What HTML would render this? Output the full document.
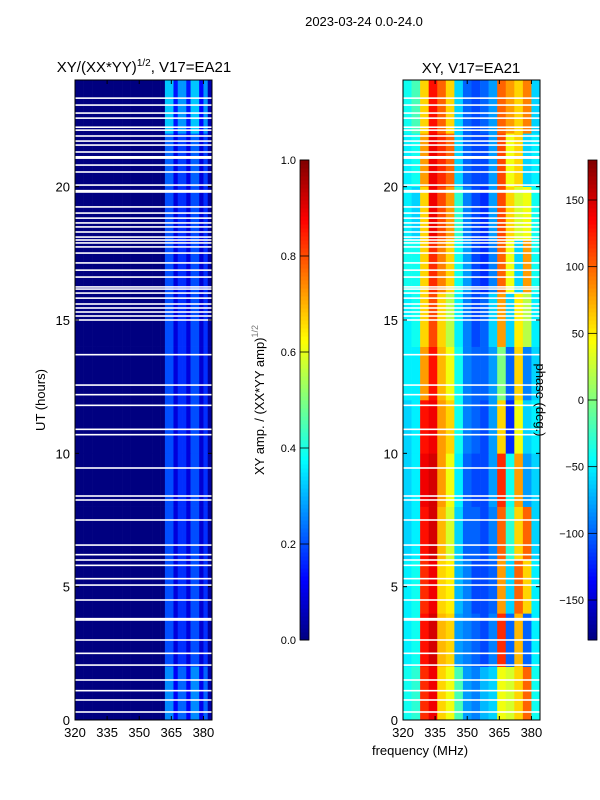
<!DOCTYPE html>
<html><head><meta charset="utf-8">
<style>
html,body{margin:0;padding:0;background:#fff;}
svg{display:block;font-family:"Liberation Sans","DejaVu Sans",sans-serif;}
</style></head>
<body>
<svg id="fig" width="600" height="800" viewBox="0 0 600 800">
<rect x="0" y="0" width="600" height="800" fill="#fff"/>
<text x="364" y="26" font-size="13" text-anchor="middle">2023-03-24 0.0-24.0</text>
<text x="144" y="72" font-size="15" text-anchor="middle">XY/(XX*YY)<tspan font-size="10" dy="-6">1/2</tspan><tspan dy="6">, V17=EA21</tspan></text>
<text x="471" y="73" font-size="15" text-anchor="middle">XY, V17=EA21</text>
<g id="ampHeat"></g>
<g id="phaseHeat"></g>
<g id="axes"></g>
<text transform="translate(45,400) rotate(-90)" font-size="13" text-anchor="middle">UT (hours)</text>
<text x="420" y="755" font-size="13" text-anchor="middle">frequency (MHz)</text>
<text transform="translate(264,400) rotate(-90)" font-size="13" text-anchor="middle">XY amp. / (XX*YY amp)<tspan font-size="9" dy="-6" fill="#777">1/2</tspan></text>
<text transform="translate(536,400) rotate(90)" font-size="13" text-anchor="middle">phase (deg.)</text>
</svg>
<script>
// ---- data ----
const freqMin = 320, freqMax = 384, utMin = 0, utMax = 24;
const xTicks = [320, 335, 350, 365, 380];
const yTicks = [0, 5, 10, 15, 20];
const ampTicks = [0.0, 0.2, 0.4, 0.6, 0.8, 1.0];
const phaseTicks = [-150, -100, -50, 0, 50, 100, 150];
// amplitude per 2 MHz channel (320..384)
const ampFreq = [0.0,0.0,0.0,0.0,0.0,0.0,0.0,0.0,0.0,0.0,0.0,0.0,0.0,0.0,0.0,0.0,
                 0.0,0.0,0.0,0.0,0.0,0.2,0.2,0.09,0.17,0.17,0.09,0.2,0.2,0.08,0.17,0.03];
// amplitude multiplier per 2-hour block (0..24)
const ampTime = [1.3,1.0,1.0,1.0,1.0,1.0,1.0,1.0,1.0,1.0,1.1,1.6];
// phase (deg) per 2-hour block (rows) x 4 MHz channel (cols)
const phaseGrid = [
 [-40,-30,120,140,60,40,-20,-80,-90,-70,-60,40,30,60,100,-40],
 [-50,-40,130,150,70,60,-80,-90,-100,-110,-90,120,-100,70,-100,-50],
 [-50,-40,120,140,60,50,-70,-90,-110,-110,-100,80,-60,100,60,-50],
 [-60,-50,130,150,70,30,-60,-100,-100,-110,-90,100,-30,60,100,-60],
 [-60,-50,140,150,80,40,-50,-100,-110,-110,-80,120,-40,80,-80,-60],
 [-60,-50,130,140,80,60,-40,-90,-100,-110,-80,60,-120,40,-60,-50],
 [-50,-50,80,130,70,40,-40,-90,-100,-100,-80,0,-100,60,-90,-60],
 [-50,-40,60,110,60,20,-50,-90,-110,-100,-60,80,-60,50,20,-50],
 [-40,-40,60,120,90,60,-40,-80,-110,-120,-90,100,40,-60,80,-40],
 [-50,-60,60,140,110,80,-30,-90,-110,-120,-80,110,60,30,40,-40],
 [-50,-40,80,140,120,100,-60,-100,-110,-110,-80,110,40,60,-60,-50],
 [-40,-20,60,130,100,60,-60,-100,-110,-100,-80,100,80,60,90,-60]
];
// flagged (blank) UT hours
const flagged = [0.3,0.75,1.1,1.5,2.06,2.5,3.0,3.75,3.8,4.5,5.06,5.3,5.8,6.0,6.2,6.56,7.5,8.25,8.4,9.45,10.7,10.9,11.8,12.2,12.56,13.7,
 15.0,15.15,15.3,15.45,15.6,15.82,16.01,16.16,16.24,16.61,16.87,17.14,17.51,17.74,17.89,18.0,18.11,18.3,18.49,18.64,18.82,19.01,19.24,
 19.8,19.85,20.06,20.55,20.81,21.07,21.12,21.3,21.56,21.71,21.9,22.12,22.23,22.57,22.76,23.06,23.32];

// ---- scales ----
const panels = [{x0:75,x1:212,name:'amp'},{x0:403,x1:540,name:'phase'}];
const y0 = 720, y1 = 80;
function yScale(h){return y0 + (h-utMin)/(utMax-utMin)*(y1-y0);}
function xScale(p,f){return p.x0 + (f-freqMin)/(freqMax-freqMin)*(p.x1-p.x0);}
function jet(v){
  v=Math.max(0,Math.min(1,v));
  const r=Math.max(0,Math.min(1,1.5-Math.abs(4*v-3)));
  const g=Math.max(0,Math.min(1,1.5-Math.abs(4*v-2)));
  const b=Math.max(0,Math.min(1,1.5-Math.abs(4*v-1)));
  return 'rgb('+Math.round(r*255)+','+Math.round(g*255)+','+Math.round(b*255)+')';
}
const NS='http://www.w3.org/2000/svg';
function mk(tag,attrs,parent){const e=document.createElementNS(NS,tag);for(const k in attrs)e.setAttribute(k,attrs[k]);parent.appendChild(e);return e;}

// amp heatmap
const ampG=document.getElementById('ampHeat');
const blockH=(utMax-utMin)/ampTime.length;
ampTime.forEach((m,ti)=>{
  ampFreq.forEach((a,fi)=>{
    const f0=freqMin+fi*2, f1=f0+2;
    const r=mk('rect',{x:xScale(panels[0],f0),y:yScale((ti+1)*blockH),width:xScale(panels[0],f1)-xScale(panels[0],f0)+0.3,height:yScale(ti*blockH)-yScale((ti+1)*blockH)+0.3,fill:jet(a*m)},ampG);
    
    
  });
});
// phase heatmap
const phG=document.getElementById('phaseHeat');
const pBlock=(utMax-utMin)/phaseGrid.length;
phaseGrid.forEach((row,ti)=>{
  row.forEach((ph,fi)=>{
    const f0=freqMin+fi*4, f1=f0+4;
    const r=mk('rect',{x:xScale(panels[1],f0),y:yScale((ti+1)*pBlock),width:xScale(panels[1],f1)-xScale(panels[1],f0)+0.3,height:yScale(ti*pBlock)-yScale((ti+1)*pBlock)+0.3,fill:jet((ph+180)/360)},phG);
    
    
  });
});
// flagged rows
panels.forEach(p=>{
  const g=p.name==='amp'?ampG:phG;
  flagged.forEach(h=>{
    const r=mk('rect',{x:p.x0,y:yScale(h)-0.8,width:p.x1-p.x0,height:1.6,fill:'#fff'},g);
    
    
  });
});
// axes
const ax=document.getElementById('axes');
panels.forEach(p=>{
  const fr=mk('rect',{x:p.x0,y:y1,width:p.x1-p.x0,height:y0-y1,fill:'none',stroke:'#000','stroke-width':1},ax);
  
  
  xTicks.forEach(t=>{
    const x=xScale(p,t);
    mk('line',{x1:x,x2:x,y1:y0,y2:y0-4,stroke:'#000'},ax);
    mk('line',{x1:x,x2:x,y1:y1,y2:y1+4,stroke:'#000'},ax);
    const tx=mk('text',{x:x,y:y0+17,'font-size':13,'text-anchor':'middle'},ax);
    tx.textContent=t;
    
    
  });
  yTicks.forEach(t=>{
    const y=yScale(t);
    mk('line',{x1:p.x0,x2:p.x0+4,y1:y,y2:y,stroke:'#000'},ax);
    mk('line',{x1:p.x1,x2:p.x1-4,y1:y,y2:y,stroke:'#000'},ax);
    const tx=mk('text',{x:p.x0-5,y:y+5,'font-size':13,'text-anchor':'end'},ax);
    tx.textContent=t;
    
    
  });
});
// colorbars
function colorbar(x,ticks,vmin,vmax,name,fmt){
  const cy0=640, cy1=160, n=120;
  for(let i=0;i<n;i++){
    const r=mk('rect',{x:x,y:cy0-(i+1)*(cy0-cy1)/n,width:9,height:(cy0-cy1)/n+0.5,fill:jet((i+0.5)/n)},ax);
    
    
  }
  const fr=mk('rect',{x:x,y:cy1,width:9,height:cy0-cy1,fill:'none',stroke:'#000','stroke-width':0.8},ax);
  
  
  ticks.forEach(t=>{
    const y=cy0-(t-vmin)/(vmax-vmin)*(cy0-cy1);
    mk('line',{x1:x,x2:x+9,y1:y,y2:y,stroke:'#000','stroke-width':0.8},ax);
    const tx=mk('text',{x:x-4,y:y+4,'font-size':11,'text-anchor':'end'},ax);
    tx.textContent=fmt(t);
    
    
  });
}
colorbar(300,ampTicks,0,1,'amp-colorbar',t=>t.toFixed(1));
colorbar(588,phaseTicks,-180,180,'phase-colorbar',t=>(t<0?'\u2212'+(-t):String(t)));
</script>
</body></html>
